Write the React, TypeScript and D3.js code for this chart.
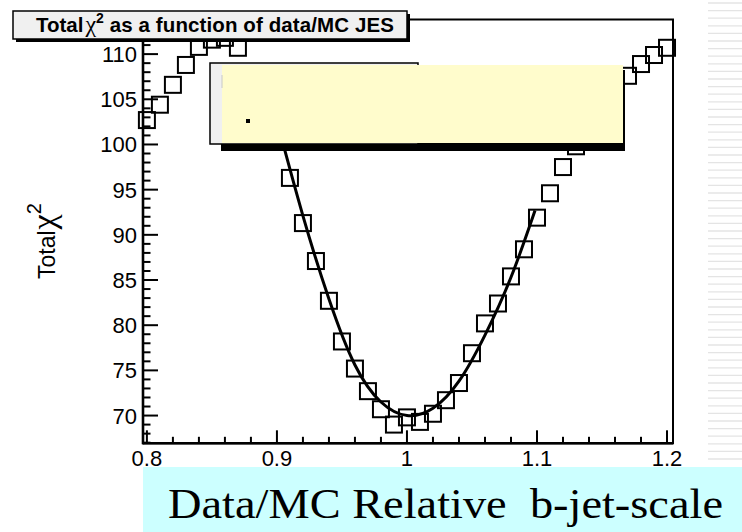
import React from 'react';
import * as d3 from 'd3';

const jesValues = [
  0.80, 0.81, 0.82, 0.83, 0.84, 0.85, 0.86, 0.87, 0.88, 0.89,
  0.90, 0.91, 0.92, 0.93, 0.94, 0.95, 0.96, 0.97, 0.98, 0.99,
  1.00, 1.01, 1.02, 1.03, 1.04, 1.05, 1.06, 1.07, 1.08, 1.09,
  1.10, 1.11, 1.12, 1.13, 1.14, 1.15, 1.16, 1.17, 1.18, 1.19, 1.20,
];
const chi2Values = [
  102.7, 104.4, 106.6, 108.8, 110.8, 111.6, 111.8, 110.7, 108.0, 104.5,
  100.8, 96.3, 91.3, 87.1, 82.7, 78.2, 75.2, 72.7, 70.7, 69.0,
  69.8, 69.3, 70.2, 71.7, 73.6, 76.9, 80.2, 82.4, 85.4, 88.4,
  91.9, 94.6, 97.5, 99.8, 102.5, 104.5, 106.2, 107.6, 108.9, 109.9, 110.7,
];
const fitJes = [0.90, 0.92, 0.94, 0.96, 0.98, 1.00, 1.02, 1.04, 1.06, 1.08, 1.0985];
const fitChi2 = [102.6, 92.1, 82.9, 75.6, 71.5, 70.0, 70.8, 73.8, 78.9, 85.3, 92.7];

const xTickValues = [0.8, 0.9, 1.0, 1.1, 1.2];
const xTickLabels = ['0.8', '0.9', '1', '1.1', '1.2'];
const yTickValues = [70, 75, 80, 85, 90, 95, 100, 105, 110];
const yTickLabels = ['70', '75', '80', '85', '90', '95', '100', '105', '110'];

const titleMain = 'Total';
const titleRest = ' as a function of data/MC JES';
const yTitle = 'Total';
const bottomLabel = 'Data/MC Relative  b-jet-scale';

const SANS = '"Liberation Sans", Arial, Helvetica, sans-serif';
const SERIF = '"Liberation Serif", "Times New Roman", serif';

export default function App() {
  const W = 742;
  const H = 532;
  const fx0 = 143, fx1 = 673, fy0 = 19.5, fy1 = 443.3;
  const x = d3.scaleLinear().domain([0.797, 1.2046]).range([fx0, fx1]);
  const y = d3.scaleLinear().domain([66.93, 113.83]).range([fy1, fy0]);

  const xMinor = x.ticks(20).filter((v) => !xTickValues.some((m) => Math.abs(m - v) < 1e-6));
  const yMinor = y.ticks(50).filter((v) => !yTickValues.some((m) => Math.abs(m - v) < 1e-6));

  const fitPts: [number, number][] = fitJes.map((v, i) => [v, fitChi2[i]]);
  const fitPath = d3
    .line<[number, number]>()
    .x((d) => x(d[0]))
    .y((d) => y(d[1]))
    .curve(d3.curveNatural)(fitPts) as string;

  const stripes = d3.range(3, 463, 7.6);
  const sq = 16;

  return (
    <svg
      width={W}
      height={H}
      style={{ position: 'absolute', left: 0, top: 0, background: '#fff' }}
    >
      {/* right stripes */}
      {stripes.map((s, i) => (
        <line key={'st' + i} x1={708} x2={742} y1={s} y2={s} stroke="#e4e4e4" strokeWidth={1.3} />
      ))}

      {/* bottom cyan label */}
      <rect x={143} y={467} width={W - 143} height={H - 467} fill="#ccffff" />
      <text
        x={168}
        y={518}
        fontFamily={SERIF}
        fontSize={42}
        fill="#000"
        style={{ whiteSpace: 'pre' }}
        textLength={555}
        lengthAdjust="spacingAndGlyphs"
      >
        {bottomLabel}
      </text>

      {/* frame */}
      <rect x={fx0} y={fy0} width={fx1 - fx0} height={fy1 - fy0} fill="none" stroke="#000" strokeWidth={2} />
      <line x1={fx0} x2={fx0} y1={fy0} y2={fy1 + 1} stroke="#000" strokeWidth={2.6} />
      <line x1={fx0} x2={fx1} y1={fy1} y2={fy1} stroke="#000" strokeWidth={2.6} />

      {/* y ticks */}
      {yTickValues.map((v, i) => (
        <g key={'yt' + i}>
          <line x1={fx0} x2={fx0 + 15} y1={y(v)} y2={y(v)} stroke="#000" strokeWidth={2} />
          <text x={fx0 - 6} y={y(v) + 8} textAnchor="end" fontFamily={SANS} fontSize={22}>
            {yTickLabels[i]}
          </text>
        </g>
      ))}
      {yMinor.map((v, i) => (
        <line key={'ym' + i} x1={fx0} x2={fx0 + 7.5} y1={y(v)} y2={y(v)} stroke="#000" strokeWidth={2} />
      ))}

      {/* x ticks */}
      {xTickValues.map((v, i) => (
        <g key={'xt' + i}>
          <line x1={x(v)} x2={x(v)} y1={fy1} y2={fy1 - 13} stroke="#000" strokeWidth={2} />
          <text x={x(v)} y={466} textAnchor="middle" fontFamily={SANS} fontSize={22}>
            {xTickLabels[i]}
          </text>
        </g>
      ))}
      {xMinor.map((v, i) => (
        <line key={'xm' + i} x1={x(v)} x2={x(v)} y1={fy1} y2={fy1 - 6.5} stroke="#000" strokeWidth={2} />
      ))}

      {/* y title */}
      <text
        transform={`translate(55,279) rotate(-90)`}
        fontFamily={SANS}
        fontSize={23}
      >
        {yTitle}
        <tspan fontFamily={SERIF} fontSize={34} dx={1}>χ</tspan>
        <tspan dy={-14} fontSize={20}>2</tspan>
      </text>

      {/* data markers */}
      {jesValues.map((v, i) => (
        <rect
          key={'p' + i}
          x={x(v) - sq / 2}
          y={y(chi2Values[i]) - sq / 2}
          width={sq}
          height={sq}
          fill="none"
          stroke="#000"
          strokeWidth={2}
        />
      ))}

      {/* fit */}
      <path d={fitPath} fill="none" stroke="#000" strokeWidth={3} />

      {/* legend pave */}
      <rect x={221} y={70} width={404} height={81} fill="#000" />
      <rect x={210} y={63} width={208} height={81} fill="#f0f0f0" stroke="#000" strokeWidth={1.5} />
      <rect x={222} y={65} width={401} height={78} fill="#fffccc" />
      <line x1={222} x2={222} y1={75} y2={88} stroke="#c8c8c8" strokeWidth={1} />
      <rect x={246} y={119} width={4} height={4} fill="#000" />

      {/* title pave */}
      <rect x={16} y={14} width={394} height={28} fill="#000" />
      <rect x={13} y={11} width={394} height={28} fill="#f0f0f0" stroke="#000" strokeWidth={1.5} />
      <text x={36} y={32} fontFamily={SANS} fontSize={20.5} fontWeight="bold">
        {titleMain}
        <tspan fontFamily={SERIF} fontWeight="normal" fontSize={24} dx={2}>χ</tspan>
        <tspan dy={-9} fontSize={14}>2</tspan>
        <tspan dy={9} textLength={290} lengthAdjust="spacing">{titleRest}</tspan>
      </text>
    </svg>
  );
}
